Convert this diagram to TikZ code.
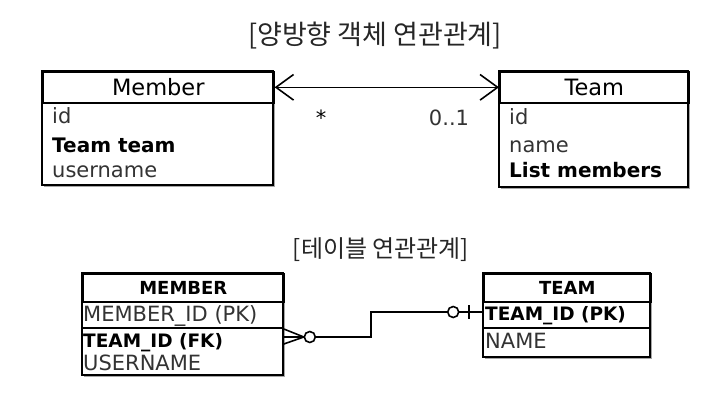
\documentclass[tikz,border=0pt]{standalone}
\usepackage{fontspec}
\setmainfont{DejaVu Sans}
\newfontfamily\kr{Noto Sans CJK KR}
\usetikzlibrary{arrows.meta,shadows,calc}
\begin{document}
\begin{tikzpicture}[x=1pt,y=-1pt,
  box/.style={draw,line width=1.6pt,fill=white,inner sep=0pt,
    drop shadow={shadow xshift=1.5pt,shadow yshift=-1.8pt,opacity=0.35,fill=black}},
  hdr/.style={draw,line width=1.6pt,inner sep=0pt,anchor=north west},
  lt/.style={anchor=base west,inner sep=0pt,text=black!80},
  bd/.style={anchor=base west,inner sep=0pt,font=\bfseries},
  big/.style={font=\fontsize{21}{25}\selectfont},
  bigb/.style={font=\fontsize{20}{24}\selectfont\bfseries},
  sm/.style={font=\fontsize{21}{25}\selectfont},
  smb/.style={font=\fontsize{18.5}{22}\selectfont\bfseries},
  conn/.style={line width=1.6pt},
  barb/.style={Straight Barb[length=17pt,width=20pt,line width=1.6pt]},
  ttl/.style={inner sep=0pt,text=black!85}]
\useasboundingbox (0,0) rectangle (727,407);

% titles
\node[ttl,font=\kr\fontsize{27}{31}\selectfont] (t1) at (375,36) {[양방향 객체 연관관계]};
\node[ttl,font=\kr\fontsize{24}{28}\selectfont] (t2) at (381,250) {[테이블 연관관계]};

% ---- top: Member
\node[box,minimum width=231pt,minimum height=114pt] (member) at (157.5,128) {};
\node[hdr,minimum width=231pt,minimum height=31pt,font=\fontsize{22.5}{26}\selectfont] (memberH) at (42,71) {Member};
\node[lt,big] (m1) at (52,123) {id};
\node[bd,bigb] (m2) at (52,152) {Team team};
\node[lt,big] (m3) at (52,177) {username};

% ---- top: Team
\node[box,minimum width=189pt,minimum height=116pt] (team) at (593.5,129) {};
\node[hdr,minimum width=189pt,minimum height=31pt,font=\fontsize{22.5}{26}\selectfont] (teamH) at (499,71) {Team};
\node[lt,big] (t1r) at (509,124) {id};
\node[lt,big] (t2r) at (509,152) {name};
\node[bd,bigb] (t3r) at (509,177) {List members};

\draw[conn,{Straight Barb[length=11pt,width=16pt,sep=0pt]}-{Straight Barb[length=11pt,width=16pt,sep=0pt]},arrows={[scale=1.6]}] (memberH.east) -- (teamH.west);
\node[anchor=base,inner sep=0pt,big] (star) at (321,125) {*};
\node[anchor=base,inner sep=0pt,big,text=black!80] (card) at (449,125) {0..1};

% ---- bottom: MEMBER
\node[box,minimum width=201pt,minimum height=102pt] (mbox) at (182.5,324) {};
\node[hdr,minimum width=201pt,minimum height=28pt,font=\fontsize{18}{22}\selectfont\bfseries] (mboxH) at (82,273) {MEMBER};
\draw[line width=1.9pt] ($(mbox.west)+(0,4)$) -- ($(mbox.east)+(0,4)$);
\node[lt,sm] (r1) at (83,321) {MEMBER\_ID (PK)};
\node[bd,smb] (r2) at (83,347) {TEAM\_ID (FK)};
\node[lt,sm] (r3) at (83,370) {USERNAME};

% ---- bottom: TEAM
\node[box,minimum width=167pt,minimum height=84pt] (tbox) at (566.5,315) {};
\node[hdr,minimum width=167pt,minimum height=28pt,font=\fontsize{18}{22}\selectfont\bfseries] (tboxH) at (483,273) {TEAM};
\draw[line width=1.6pt] ($(tbox.west)+(0,13)$) -- ($(tbox.east)+(0,13)$);
\node[bd,smb] (s1) at (485,320) {TEAM\_ID (PK)};
\node[lt,sm] (s2) at (485,348) {NAME};

% ---- connector
\coordinate (A) at ($(mbox.east)+(0,13)$);
\coordinate (B) at ($(tbox.west)+(0,-3)$);
\draw[conn] ($(A)+(0,-8)$) -- ($(A)+(20,0)$) -- ($(A)+(0,7)$);
\draw[conn] (A) -- ($(A)+(20,0)$);
\draw[conn,fill=white] ($(A)+(26,0)$) circle[radius=5.5pt];
\draw[conn] ($(A)+(31.5,0)$) -- ($(A)+(87,0)$) |- ($(B)+(-23.5,0)$);
\draw[conn,fill=white] ($(B)+(-29,0)$) circle[radius=5.5pt];
\draw[conn] ($(B)+(-23.5,0)$) -- (B);
\draw[conn] ($(B)+(-13,-7)$) -- ($(B)+(-13,7)$);
\end{tikzpicture}
\end{document}
